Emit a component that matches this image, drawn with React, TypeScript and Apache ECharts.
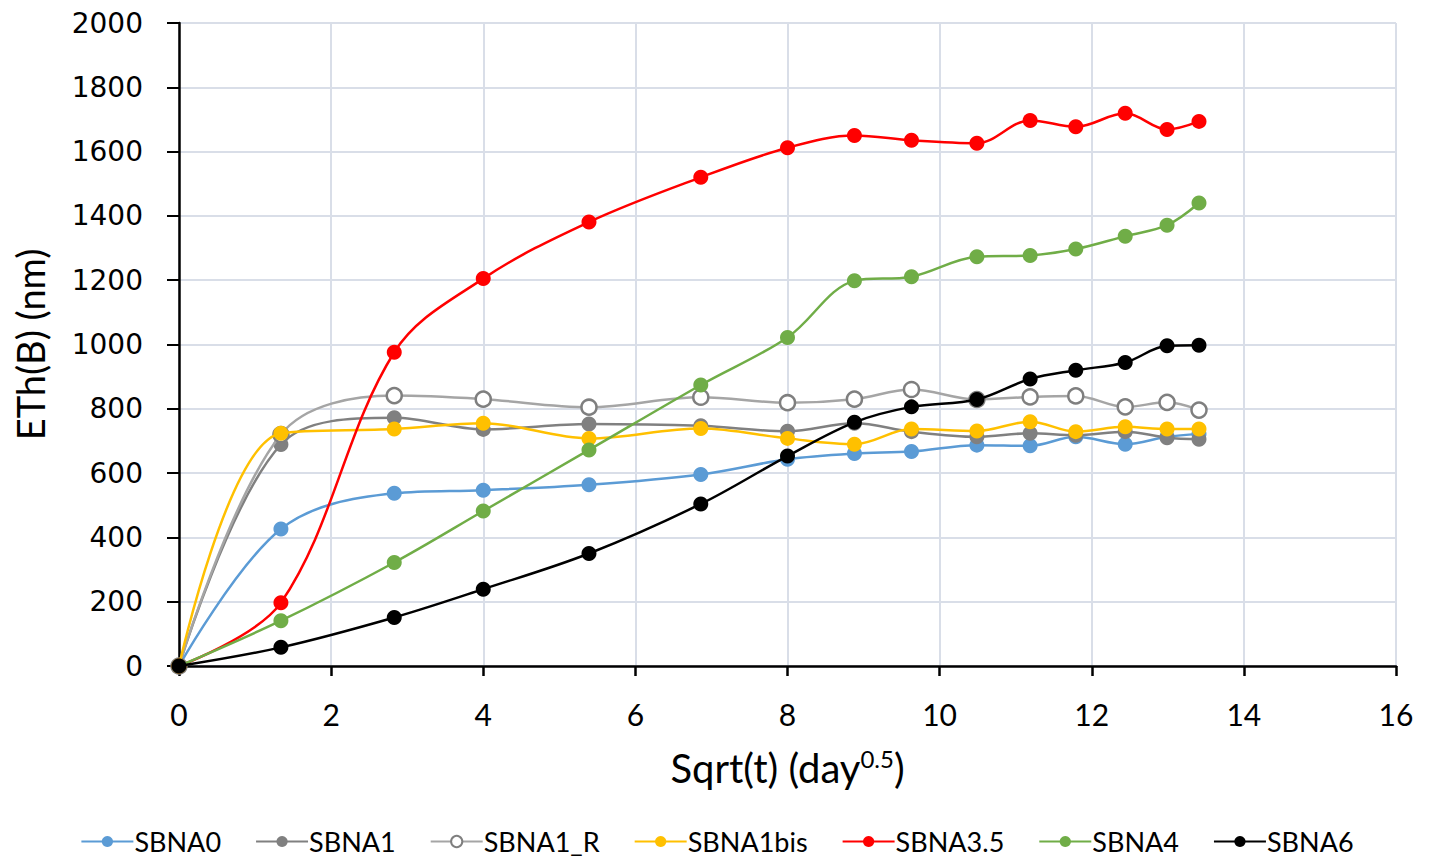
import React, { useEffect, useRef } from "react";
import * as echarts from "echarts";

const xValues = [0, 1.34, 2.83, 4, 5.39, 6.86, 8, 8.88, 9.63, 10.49, 11.19, 11.79, 12.44, 12.99, 13.41];

const seriesNames = ["SBNA0", "SBNA1", "SBNA1_R", "SBNA1bis", "SBNA3.5", "SBNA4", "SBNA6"];

const sbna0 = [0, 426, 537, 547, 564, 596, 643, 661, 667, 687, 685, 713, 690, 713, 722];
const sbna1 = [0, 689, 772, 736, 753, 747, 730, 755, 729, 713, 724, 718, 729, 710, 705];
const sbna1R = [0, 720, 841, 830, 805, 836, 819, 830, 860, 829, 837, 840, 806, 820, 796];
const sbna1bis = [0, 724, 737, 755, 708, 739, 708, 690, 737, 731, 760, 729, 744, 737, 737];
const sbna35 = [0, 197, 976, 1205, 1381, 1520, 1612, 1650, 1635, 1626, 1697, 1677, 1719, 1669, 1694];
const sbna4 = [0, 141, 322, 482, 672, 874, 1022, 1198, 1211, 1273, 1277, 1297, 1337, 1371, 1440];
const sbna6 = [0, 58, 151, 239, 350, 504, 653, 758, 806, 829, 893, 920, 944, 996, 998];

const seriesValues = [sbna0, sbna1, sbna1R, sbna1bis, sbna35, sbna4, sbna6];
const lineColors = ["#5B9BD5", "#808080", "#A5A5A5", "#FFC000", "#FF0000", "#70AD47", "#000000"];
const hollow = [false, false, true, false, false, false, false];

const xMin = 0, xMax = 16, xStep = 2;
const yMin = 0, yMax = 2000, yStep = 200;

export default function App() {
  const ref = useRef<HTMLDivElement>(null);
  useEffect(() => {
    if (!ref.current) return;
    const chart = echarts.init(ref.current, null, { renderer: "svg" });
    const series = seriesNames.map((name, i) => ({
      name,
      type: "line",
      smooth: 0.35,
      data: xValues.map((x, j) => [x, seriesValues[i][j]]),
      symbol: "circle",
      symbolSize: 15,
      showSymbol: true,
      lineStyle: { color: lineColors[i], width: 2.5 },
      itemStyle: hollow[i]
        ? { color: "#ffffff", borderColor: "#7F7F7F", borderWidth: 2.5 }
        : { color: lineColors[i], borderWidth: 0 },
      z: 2 + i,
    }));
    chart.setOption({
      animation: false,
      backgroundColor: "#ffffff",
      grid: {
        left: 171,
        right: 30,
        top: 15,
        bottom: 191,
        containLabel: false,
        outerBoundsMode: "none",
      },
      xAxis: {
        type: "value",
        min: xMin,
        max: xMax,
        interval: xStep,
        name: "Sqrt(t) (day{sup|0.5})",
        nameLocation: "middle",
        nameGap: 80,
        nameTextStyle: {
          fontFamily: "Lato",
          fontSize: 40,
          color: "#000",
          rich: {
            sup: { fontFamily: "Lato", fontSize: 24, color: "#000", verticalAlign: "top", padding: [0, 0, 20, 0] },
          },
        },
        axisLine: { show: true, onZero: false, lineStyle: { color: "#000", width: 2.5 } },
        axisTick: { show: true, length: 10, inside: false, lineStyle: { color: "#000", width: 2.5 } },
        axisLabel: { fontFamily: "Lato", fontSize: 30, color: "#000", margin: 33 },
        splitLine: { show: true, lineStyle: { color: "#D9DEE8", width: 2 } },
      },
      yAxis: {
        type: "value",
        min: yMin,
        max: yMax,
        interval: yStep,
        name: "ETh(B) (nm)",
        nameLocation: "middle",
        nameGap: 130,
        nameRotate: 90,
        nameTextStyle: { fontFamily: "Lato", fontSize: 38, color: "#000" },
        axisLine: { show: true, lineStyle: { color: "#000", width: 2.5 } },
        axisTick: { show: true, length: 12, inside: false, lineStyle: { color: "#000", width: 2 } },
        axisLabel: {
          fontFamily: "DejaVu Sans",
          fontSize: 28,
          color: "#000",
          margin: 36,
          formatter: (v: number) => String(v),
        },
        splitLine: { show: true, lineStyle: { color: "#D9DEE8", width: 2 } },
      },
      legend: {
        top: 815,
        left: "center",
        itemWidth: 52,
        itemHeight: 14,
        itemGap: 34,
        textStyle: { fontFamily: "Lato", fontSize: 27, color: "#000", padding: [0, 0, 0, -4] },
        data: seriesNames,
      },
      series,
    });
    return () => chart.dispose();
  }, []);
  return <div ref={ref} style={{ width: 1418, height: 849 }} />;
}
